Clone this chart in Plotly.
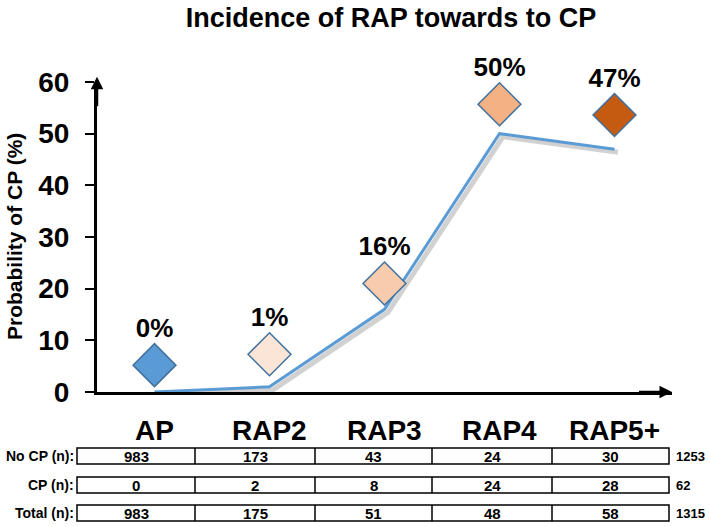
import plotly.graph_objects as go

# ---------------- data ----------------
categories = ["AP", "RAP2", "RAP3", "RAP4", "RAP5+"]
prob_cp = [0, 1, 16, 50, 47]                 # line values (%)
marker_level = [5.2, 7.3, 21.0, 55.7, 53.6]  # diamond positions as drawn
pct_labels = ["0%", "1%", "16%", "50%", "47%"]
marker_colors = ["#5B9BD5", "#FBE5D6", "#F8CBAD", "#F4B183", "#C55A11"]
row_labels = ["No CP (n):", "CP (n):", "Total (n):"]
no_cp = [983, 173, 43, 24, 30]
cp = [0, 2, 8, 24, 28]
total = [983, 175, 51, 48, 58]
row_totals = [1253, 62, 1315]
y_ticks = [0, 10, 20, 30, 40, 50, 60]

# ---------------- layout constants ----------------
W, H = 710, 527
L, R, T, B = 97, 38, 82, 135
PW, PH = W - L - R, H - T - B
FONT = "Liberation Sans, Arial, sans-serif"

def px_x(p):
    return (p - L) / PW

def px_y(p):
    return (H - B - p) / PH

xs = list(range(len(categories)))

fig = go.Figure()

# shadow of the line
fig.add_trace(go.Scatter(
    x=[x + 0.03 for x in xs], y=[v - 0.6 for v in prob_cp], mode="lines",
    line=dict(color="rgba(0,0,0,0.18)", width=5), hoverinfo="skip", showlegend=False,
    cliponaxis=False))
# the line
fig.add_trace(go.Scatter(
    x=xs, y=prob_cp, mode="lines",
    line=dict(color="#5B9BD5", width=3), showlegend=False, cliponaxis=False))
# diamonds + percentage labels
fig.add_trace(go.Scatter(
    x=xs, y=marker_level, mode="markers+text",
    marker=dict(symbol="diamond", size=33, color=marker_colors,
                line=dict(color="#41719C", width=1.5)),
    text=pct_labels, textposition="top center",
    textfont=dict(family=FONT, size=26, color="black", weight="bold"),
    showlegend=False, cliponaxis=False))

annotations = []
# category labels
for i, c in enumerate(categories):
    annotations.append(dict(x=i, y=px_y(430), xref="x", yref="paper", text=c,
                            showarrow=False, xanchor="center", yanchor="middle",
                            font=dict(family=FONT, size=28, color="black", weight="bold")))

# axis arrows
annotations.append(dict(x=-0.5, y=61, ax=-0.5, ay=55, xref="x", yref="y", axref="x", ayref="y",
                        showarrow=True, arrowhead=2, arrowsize=1, arrowwidth=2.5,
                        arrowcolor="black", text=""))
annotations.append(dict(x=4.5, y=0, ax=4.2, ay=0, xref="x", yref="y", axref="x", ayref="y",
                        showarrow=True, arrowhead=2, arrowsize=1, arrowwidth=2.5,
                        arrowcolor="black", text=""))

# table
col_edges_px = [77, 195, 315, 432, 552, 669]
row_centers_px = [456, 485, 513]
box_h = 16
shapes = []
rows = [no_cp, cp, total]
for r, (lab, vals, tot, cy) in enumerate(zip(row_labels, rows, row_totals, row_centers_px)):
    y0, y1 = px_y(cy + box_h / 2), px_y(cy - box_h / 2)
    shapes.append(dict(type="rect", xref="paper", yref="paper",
                       x0=px_x(col_edges_px[0]), x1=px_x(col_edges_px[-1]), y0=y0, y1=y1,
                       line=dict(color="black", width=1.5), fillcolor="white"))
    for e in col_edges_px[1:-1]:
        shapes.append(dict(type="line", xref="paper", yref="paper",
                           x0=px_x(e), x1=px_x(e), y0=y0, y1=y1,
                           line=dict(color="black", width=1.5)))
    annotations.append(dict(x=px_x(col_edges_px[0] - 1), y=px_y(cy), xref="paper", yref="paper",
                            text=lab, showarrow=False, xanchor="right", yanchor="middle",
                            font=dict(family=FONT, size=14, color="black", weight="bold")))
    for j, v in enumerate(vals):
        cx = (col_edges_px[j] + col_edges_px[j + 1]) / 2
        annotations.append(dict(x=px_x(cx), y=px_y(cy), xref="paper", yref="paper",
                                text=str(v), showarrow=False, xanchor="center", yanchor="middle",
                                font=dict(family=FONT, size=15, color="black", weight="bold")))
    annotations.append(dict(x=px_x(674), y=px_y(cy), xref="paper", yref="paper",
                            text=str(tot), showarrow=False, xanchor="left", yanchor="middle",
                            font=dict(family=FONT, size=13, color="black", weight="bold")))

# y axis title
annotations.append(dict(x=px_x(14), y=px_y(237), xref="paper", yref="paper",
                        text="Probability of CP (%)", textangle=-90, showarrow=False,
                        xanchor="center", yanchor="middle",
                        font=dict(family=FONT, size=21, color="black", weight="bold")))

fig.update_layout(
    width=W, height=H,
    margin=dict(l=L, r=R, t=T, b=B),
    paper_bgcolor="white", plot_bgcolor="white",
    title=dict(text="Incidence of RAP towards to CP", x=391 / W, xanchor="center",
               y=1 - 18 / H, yanchor="middle",
               font=dict(family=FONT, size=27, color="black", weight="bold")),
    xaxis=dict(range=[-0.5, 4.5], showline=True, linecolor="black", linewidth=3,
               showticklabels=False, ticks="", showgrid=False, zeroline=False),
    yaxis=dict(range=[0, 60], tickvals=y_ticks, showline=True, linecolor="black", linewidth=3,
               ticks="outside", ticklen=9, tickwidth=2, tickcolor="black",
               ticklabelstandoff=10,
               tickfont=dict(family=FONT, size=28, color="black", weight="bold"),
               showgrid=False, zeroline=False),
    shapes=shapes, annotations=annotations, showlegend=False,
)

fig.write_html("out.html", config={"displayModeBar": False},
               post_script="document.body.style.margin='0px';document.body.style.overflow='hidden';")
